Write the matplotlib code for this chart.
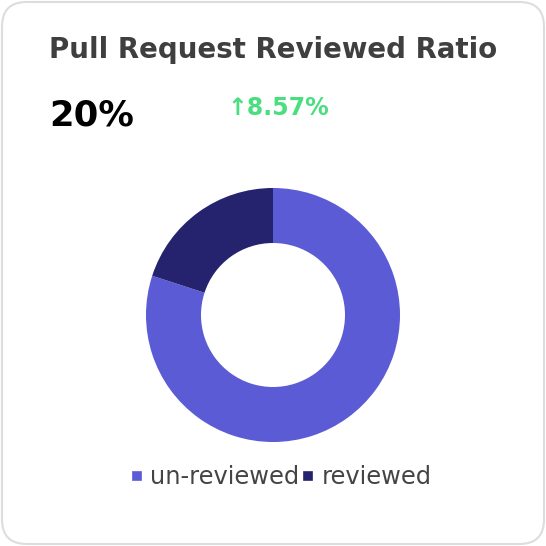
import matplotlib
matplotlib.use("Agg")
import matplotlib.pyplot as plt
from matplotlib.patches import FancyBboxPatch
from matplotlib.lines import Line2D

categories = ["un-reviewed", "reviewed"]
values = [80, 20]
colors = ["#5B5BD6", "#25226E"]
title = "Pull Request Reviewed Ratio"
kpi_value = "20%"
kpi_change = "↑8.57%"

W = H = 546
fig = plt.figure(figsize=(W / 100, H / 100), dpi=100)
fig.patch.set_facecolor("white")

# card
card = FancyBboxPatch((2 / W, 2 / H), (W - 4) / W, (H - 4) / H,
                      boxstyle="round,pad=0,rounding_size=0.045",
                      transform=fig.transFigure, facecolor="white",
                      edgecolor="#DDDDDD", linewidth=1.5, zorder=-10)
fig.patches.append(card)

fig.text(49 / W, 1 - 50 / H, title, fontsize=19.9, fontweight="bold",
         color="#3F3F3F", ha="left", va="center")
fig.text(49 / W, 1 - 116 / H, kpi_value, fontsize=25.5, fontweight="bold",
         color="#000000", ha="left", va="center")
fig.text(227 / W, 1 - 108 / H, kpi_change, fontsize=17.0, fontweight="bold",
         color="#4ADE80", ha="left", va="center")

cx, cy, r = 273, 315, 127
ax = fig.add_axes([(cx - r) / W, (H - cy - r) / H, 2 * r / W, 2 * r / H], zorder=5)
ax.pie(values, colors=colors, startangle=90, counterclock=False, radius=1,
       wedgeprops=dict(width=55 / 127, linewidth=0))
ax.set_xlim(-1, 1)
ax.set_ylim(-1, 1)
ax.set_aspect("equal")
ax.axis("off")

handles = [Line2D([0], [0], marker="s", linestyle="none", markersize=6,
                  markerfacecolor=c, markeredgecolor=c, markeredgewidth=1.2)
           for c in colors]
fig.legend(handles, categories, loc="center", bbox_to_anchor=(280 / W, 1 - 477 / H),
           ncol=2, frameon=False, fontsize=17.4, labelcolor="#444444",
           handletextpad=0.2, columnspacing=0.0, handlelength=0.7)

fig.savefig("out.png", dpi=100, facecolor="white")
